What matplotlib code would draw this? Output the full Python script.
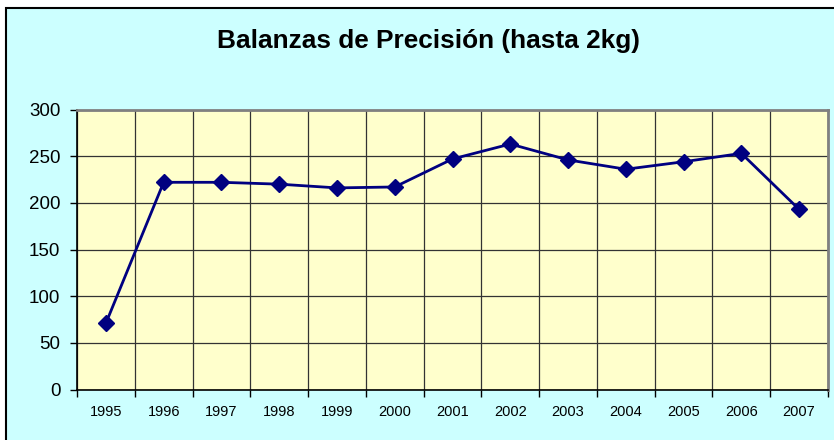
import matplotlib
matplotlib.use("Agg")
import numpy as np
from matplotlib import pyplot as plt
from matplotlib.patches import Rectangle
from matplotlib.ticker import FixedLocator, NullFormatter

# data
years = ["1995", "1996", "1997", "1998", "1999", "2000", "2001",
         "2002", "2003", "2004", "2005", "2006", "2007"]
values = [71, 222, 222, 220, 216, 217, 247, 263, 246, 236, 244, 253, 193]

plt.rcParams["font.family"] = ["Liberation Sans", "DejaVu Sans"]

fig = plt.figure(figsize=(8.34, 4.4), dpi=100)
fig.patch.set_facecolor("white")

# cyan chart area with black frame (runs off the right/bottom edge)
frame = Rectangle((6 / 834, -0.05), 1.0, (440 - 8) / 440 + 0.05,
                  transform=fig.transFigure, facecolor="#CCFFFF",
                  edgecolor="black", linewidth=1.5, zorder=-1)
fig.patches.append(frame)

ax = fig.add_axes([77 / 834, (440 - 389.5) / 440,
                   (828 - 77) / 834, (389.5 - 109.5) / 440])
ax.set_facecolor("#FFFFCC")

x = np.arange(len(years))
ax.plot(x, values, color="#000080", linewidth=2, marker="D",
        markersize=8.5, markerfacecolor="#000080", zorder=3)

ax.set_xlim(-0.5, len(years) - 0.5)
ax.set_ylim(0, 300)
ax.set_yticks(np.arange(0, 301, 50))

# category boundaries carry the ticks and grid, labels sit between
ax.xaxis.set_major_locator(FixedLocator(np.arange(-0.5, len(years), 1.0)))
ax.xaxis.set_major_formatter(NullFormatter())
ax.xaxis.set_minor_locator(FixedLocator(x))
ax.set_xticklabels(years, minor=True)
ax.tick_params(axis="x", which="minor", length=0, pad=11, labelsize=10.5)
ax.tick_params(axis="x", which="major", length=5, width=1, color="black")
ax.tick_params(axis="y", length=5, width=1, pad=7, labelsize=13.5)

ax.grid(True, which="major", color="#333333", linewidth=0.9)
ax.set_axisbelow(True)

for side in ["top", "right"]:
    ax.spines[side].set_color("#808080")
    ax.spines[side].set_linewidth(2)
for side in ["left", "bottom"]:
    ax.spines[side].set_color("black")
    ax.spines[side].set_linewidth(1.2)

fig.text(428 / 834, (440 - 41) / 440, "Balanzas de Precisión (hasta 2kg)",
         ha="center", va="center", fontsize=18.9, fontweight="bold")

fig.savefig("out.png", dpi=100)
